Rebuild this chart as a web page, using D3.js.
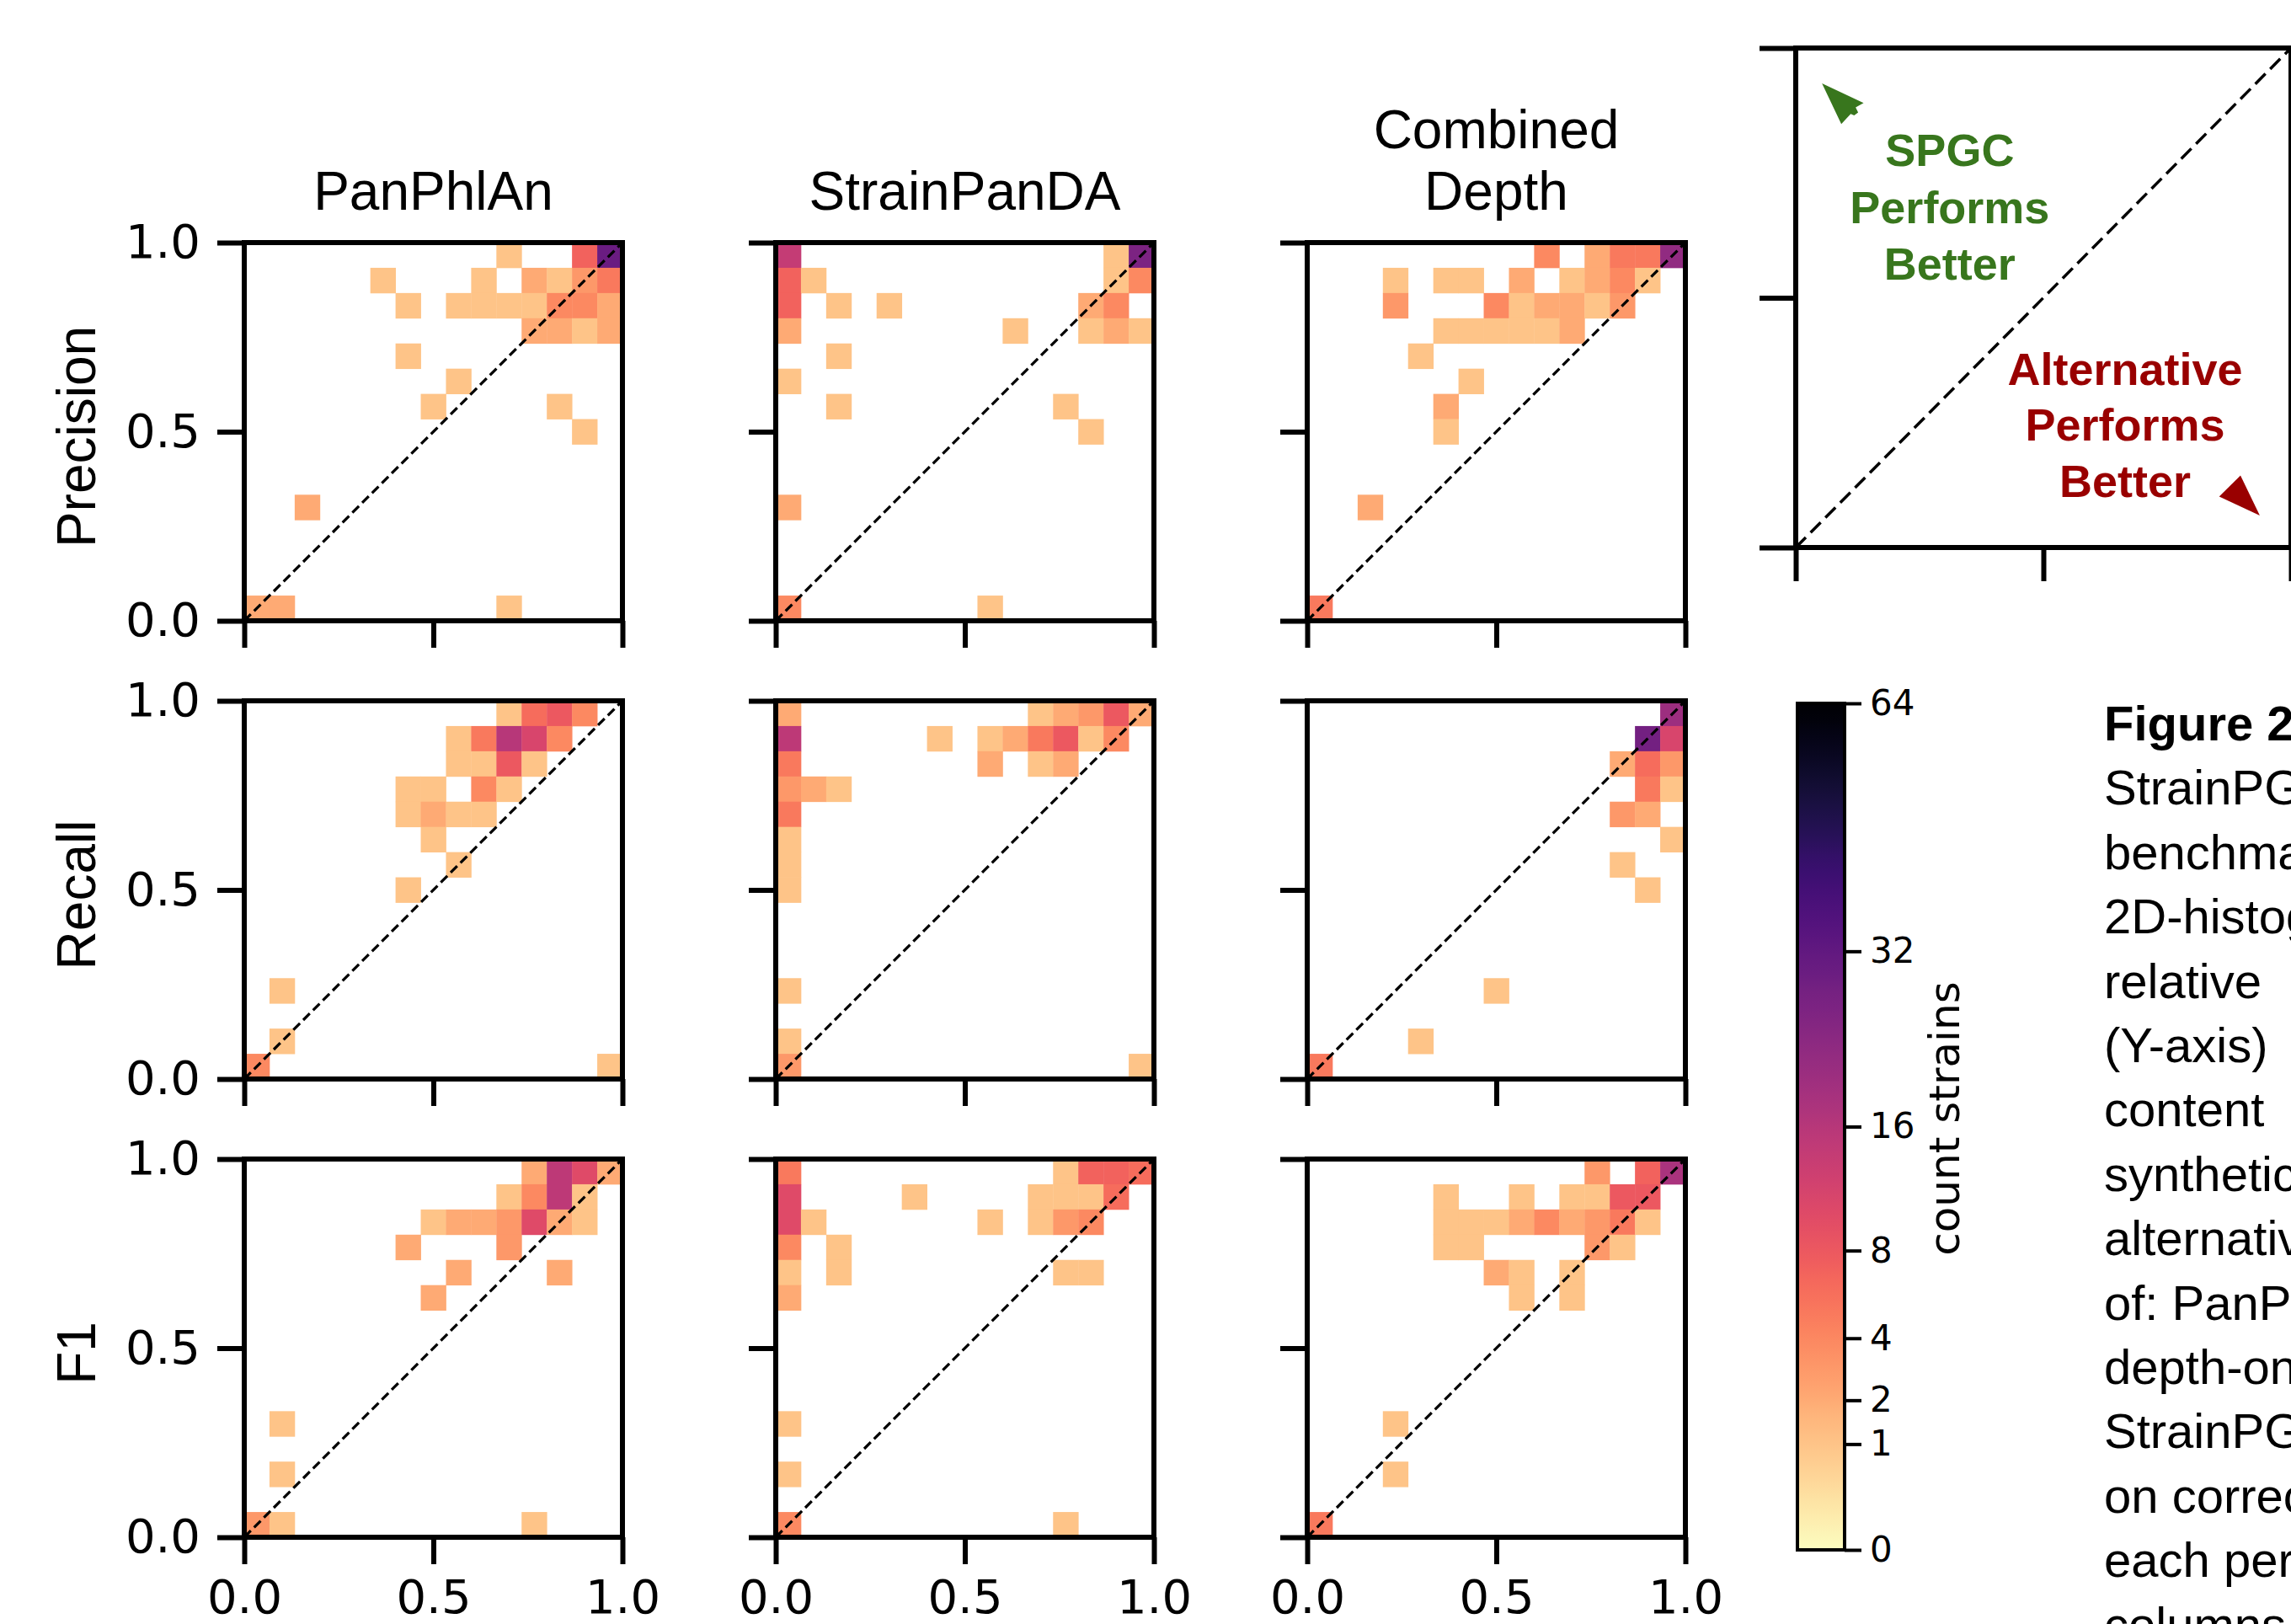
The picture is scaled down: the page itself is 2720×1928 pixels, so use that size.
<!DOCTYPE html>
<html>
<head>
<meta charset="utf-8">
<script src="https://cdn.jsdelivr.net/npm/d3@7"></script>
<style>
  body { margin: 0; background: #fff; }
  svg { display: block; }
</style>
</head>
<body>
<svg id="chart"></svg>
<script>
const width = 2720
const height = 1928

const methods = [["PanPhlAn"], ["StrainPanDA"], ["Combined", "Depth"]]
const metrics = ["Precision", "Recall", "F1"]
const nBins = 15
const axisTicks = [0, 0.5, 1]
const colorTicks = [0, 1, 2, 4, 8, 16, 32, 64]
const maxCount = 64

// [x bin, y bin, count strains], bins of width 1/15 counted from 0
const precisionPanPhlAn = [
  [10, 14, 1], [13, 14, 7], [14, 14, 30],
  [5, 13, 1], [9, 13, 1], [11, 13, 2], [12, 13, 1], [13, 13, 3], [14, 13, 5],
  [6, 12, 1], [8, 12, 1], [9, 12, 1], [10, 12, 1], [11, 12, 1], [12, 12, 4], [13, 12, 4], [14, 12, 2],
  [11, 11, 2], [12, 11, 2], [13, 11, 1], [14, 11, 2],
  [6, 10, 1], [8, 9, 1], [7, 8, 1], [12, 8, 1], [13, 7, 1],
  [2, 4, 2],
  [0, 0, 2], [1, 0, 2], [10, 0, 1],
]
const precisionStrainPanDA = [
  [0, 14, 14], [13, 14, 1], [14, 14, 26],
  [0, 13, 7], [1, 13, 1], [13, 13, 1], [14, 13, 4],
  [0, 12, 7], [2, 12, 1], [4, 12, 1], [12, 12, 2], [13, 12, 4],
  [0, 11, 2], [9, 11, 1], [12, 11, 1], [13, 11, 2], [14, 11, 1],
  [2, 10, 1], [0, 9, 1], [2, 8, 1], [11, 8, 1], [12, 7, 1],
  [0, 4, 2],
  [0, 0, 4], [8, 0, 1],
]
const precisionCombined = [
  [9, 14, 4], [11, 14, 2], [12, 14, 5], [13, 14, 5], [14, 14, 22],
  [3, 13, 1], [5, 13, 1], [6, 13, 1], [8, 13, 2], [10, 13, 1], [11, 13, 2], [12, 13, 4], [13, 13, 1],
  [3, 12, 3], [7, 12, 4], [8, 12, 1], [9, 12, 2], [10, 12, 2], [11, 12, 1], [12, 12, 3],
  [5, 11, 1], [6, 11, 1], [7, 11, 1], [8, 11, 1], [9, 11, 1], [10, 11, 2],
  [4, 10, 1], [6, 9, 1], [5, 8, 2], [5, 7, 1],
  [2, 4, 2],
  [0, 0, 5],
]
const recallPanPhlAn = [
  [10, 14, 1], [11, 14, 6], [12, 14, 8], [13, 14, 4],
  [8, 13, 1], [9, 13, 5], [10, 13, 16], [11, 13, 11], [12, 13, 4],
  [8, 12, 1], [9, 12, 1], [10, 12, 8], [11, 12, 1],
  [6, 11, 1], [7, 11, 1], [9, 11, 4], [10, 11, 1],
  [6, 10, 1], [7, 10, 2], [8, 10, 1], [9, 10, 1],
  [7, 9, 1], [8, 8, 1], [6, 7, 1],
  [1, 3, 1], [1, 1, 1],
  [0, 0, 4], [14, 0, 1],
]
const recallStrainPanDA = [
  [0, 14, 2], [10, 14, 1], [11, 14, 2], [12, 14, 3], [13, 14, 8], [14, 14, 2],
  [0, 13, 15], [6, 13, 1], [8, 13, 1], [9, 13, 2], [10, 13, 5], [11, 13, 8], [12, 13, 1], [13, 13, 4],
  [0, 12, 5], [8, 12, 2], [10, 12, 1], [11, 12, 2],
  [0, 11, 3], [1, 11, 2], [2, 11, 1],
  [0, 10, 5], [0, 9, 1], [0, 8, 1], [0, 7, 1],
  [0, 3, 1], [0, 1, 1],
  [0, 0, 3], [14, 0, 1],
]
const recallCombined = [
  [14, 14, 20],
  [13, 13, 28], [14, 13, 11],
  [12, 12, 2], [13, 12, 6], [14, 12, 3],
  [13, 11, 5], [14, 11, 1],
  [12, 10, 3], [13, 10, 2],
  [14, 9, 1], [12, 8, 1], [13, 7, 1],
  [7, 3, 1], [4, 1, 1],
  [0, 0, 5],
]
const f1PanPhlAn = [
  [11, 14, 2], [12, 14, 15], [13, 14, 10], [14, 14, 2],
  [10, 13, 1], [11, 13, 4], [12, 13, 15], [13, 13, 1],
  [7, 12, 1], [8, 12, 2], [9, 12, 2], [10, 12, 3], [11, 12, 10], [12, 12, 2], [13, 12, 1],
  [6, 11, 2], [10, 11, 3],
  [8, 10, 2], [12, 10, 2],
  [7, 9, 2],
  [1, 4, 1], [1, 2, 1],
  [0, 0, 3], [1, 0, 1], [11, 0, 1],
]
const f1StrainPanDA = [
  [0, 14, 5], [11, 14, 1], [12, 14, 7], [13, 14, 7], [14, 14, 6],
  [0, 13, 10], [5, 13, 1], [10, 13, 1], [11, 13, 1], [12, 13, 1], [13, 13, 6],
  [0, 12, 10], [1, 12, 1], [8, 12, 1], [10, 12, 1], [11, 12, 3], [12, 12, 4],
  [0, 11, 4], [2, 11, 1],
  [0, 10, 1], [2, 10, 1], [11, 10, 1], [12, 10, 1],
  [0, 9, 2],
  [0, 4, 1], [0, 2, 1],
  [0, 0, 4], [11, 0, 1],
]
const f1Combined = [
  [11, 14, 3], [13, 14, 7], [14, 14, 18],
  [5, 13, 1], [8, 13, 1], [10, 13, 1], [11, 13, 1], [12, 13, 8], [13, 13, 8],
  [5, 12, 1], [6, 12, 1], [7, 12, 1], [8, 12, 2], [9, 12, 4], [10, 12, 2], [11, 12, 3], [12, 12, 5], [13, 12, 1],
  [5, 11, 1], [6, 11, 1], [11, 11, 3], [12, 11, 1],
  [7, 10, 2], [8, 10, 1], [10, 10, 1],
  [8, 9, 1], [10, 9, 1],
  [3, 4, 1], [3, 2, 1],
  [0, 0, 5],
]

const grid = [
  [precisionPanPhlAn, precisionStrainPanDA, precisionCombined],
  [recallPanPhlAn, recallStrainPanDA, recallCombined],
  [f1PanPhlAn, f1StrainPanDA, f1Combined],
]

// schematic inset, in its own 0..1 axes
const spgcLabel = ["SPGC", "Performs", "Better"]
const altLabel = ["Alternative", "Performs", "Better"]
const spgcArrow = [[0.053, 0.929], [0.137, 0.890], [0.121, 0.881], [0.126, 0.871], [0.118, 0.865], [0.111, 0.868], [0.092, 0.848]]
const altArrow = [[0.937, 0.064], [0.855, 0.102], [0.898, 0.144]]

const captionLines = [
  "Figure 2", "StrainPGC", "benchmark", "2D-histograms", "relative", "(Y-axis)",
  "content", "synthetic", "alternative", "of: PanPhlAn", "depth-only",
  "StrainPGC", "on correct", "each perform", "columns",
]

// layout
const panelLeft = [290, 921, 1552]
const panelTop = [288, 832, 1376]
const panelSize = 449
const tickFont = "'DejaVu Sans', sans-serif"
const labelFont = "'Liberation Sans', Arial, sans-serif"

const svg = d3.select("#chart").attr("width", width).attr("height", height)
  .attr("viewBox", `0 0 ${width} ${height}`)

const norm = d3.scalePow().exponent(0.5).domain([0, maxCount]).range([0, 1])
const color = (v) => d3.interpolateMagma(1 - norm(v))

grid.forEach((row, r) => {
  row.forEach((cells, c) => {
    const x = d3.scaleLinear().domain([0, 1]).range([panelLeft[c], panelLeft[c] + panelSize])
    const y = d3.scaleLinear().domain([0, 1]).range([panelTop[r] + panelSize, panelTop[r]])
    const g = svg.append("g")

    g.selectAll("rect.cell")
      .data(cells)
      .join("rect")
      .attr("class", "cell")
      .attr("x", (d) => x(d[0] / nBins))
      .attr("y", (d) => y((d[1] + 1) / nBins))
      .attr("width", (d) => x((d[0] + 1) / nBins) - x(d[0] / nBins) + 0.4)
      .attr("height", (d) => y(d[1] / nBins) - y((d[1] + 1) / nBins) + 0.4)
      .attr("fill", (d) => color(d[2]))

    g.append("line")
      .attr("x1", x(0)).attr("y1", y(0))
      .attr("x2", x(1)).attr("y2", y(1))
      .attr("stroke", "#000")
      .attr("stroke-width", 3.2)
      .attr("stroke-dasharray", "11,5.5")

    const xa = g.append("g")
      .attr("transform", `translate(0, ${y(0)})`)
      .call(d3.axisBottom(x).tickValues(axisTicks).tickSize(32).tickSizeOuter(0).tickPadding(18)
        .tickFormat(r === 2 ? d3.format(".1f") : () => ""))
    const ya = g.append("g")
      .attr("transform", `translate(${x(0)}, 0)`)
      .call(d3.axisLeft(y).tickValues(axisTicks).tickSize(32).tickSizeOuter(0).tickPadding(20)
        .tickFormat(c === 0 ? d3.format(".1f") : () => ""))
    ;[xa, ya].forEach((a) => {
      a.select(".domain").remove()
      a.selectAll(".tick line").attr("stroke", "#000").attr("stroke-width", 6)
      a.selectAll("text").attr("font-family", tickFont).attr("font-size", 56).attr("fill", "#000")
    })

    g.append("rect")
      .attr("x", x(0)).attr("y", y(1))
      .attr("width", x(1) - x(0)).attr("height", y(0) - y(1))
      .attr("fill", "none")
      .attr("stroke", "#000")
      .attr("stroke-width", 6)
  })
})

// column titles
methods.forEach((lines, c) => {
  const cx = panelLeft[c] + panelSize / 2
  svg.append("text")
    .attr("x", cx)
    .attr("text-anchor", "middle")
    .attr("font-family", labelFont)
    .attr("font-size", 64)
    .selectAll("tspan")
    .data(lines)
    .join("tspan")
    .attr("x", cx)
    .attr("y", (d, i) => 249 - (lines.length - 1 - i) * 73)
    .text((d) => d)
})

// row labels
metrics.forEach((m, r) => {
  svg.append("text")
    .attr("transform", `translate(113, ${panelTop[r] + panelSize / 2 + 6}) rotate(-90)`)
    .attr("text-anchor", "middle")
    .attr("font-family", labelFont)
    .attr("font-size", 64)
    .text(m)
})

// colorbar
const cbLeft = 2134
const cbWidth = 56
const cbY = d3.scalePow().exponent(0.5).domain([0, maxCount]).range([1840, 835])
const grad = svg.append("defs").append("linearGradient")
  .attr("id", "cbar").attr("x1", 0).attr("y1", 1).attr("x2", 0).attr("y2", 0)
grad.selectAll("stop")
  .data(d3.range(0, 1.0001, 0.02))
  .join("stop")
  .attr("offset", (d) => d)
  .attr("stop-color", (d) => d3.interpolateMagma(1 - d))
svg.append("rect")
  .attr("x", cbLeft).attr("y", cbY(maxCount))
  .attr("width", cbWidth).attr("height", cbY(0) - cbY(maxCount))
  .attr("fill", "url(#cbar)")
  .attr("stroke", "#000").attr("stroke-width", 4)
const cba = svg.append("g")
  .attr("transform", `translate(${cbLeft + cbWidth}, 0)`)
  .call(d3.axisRight(cbY).tickValues(colorTicks).tickSize(20).tickSizeOuter(0).tickPadding(10))
cba.select(".domain").remove()
cba.selectAll(".tick line").attr("stroke", "#000").attr("stroke-width", 4)
cba.selectAll("text").attr("font-family", tickFont).attr("font-size", 42).attr("fill", "#000")
svg.append("text")
  .attr("transform", `translate(2326, 1328) rotate(-90)`)
  .attr("text-anchor", "middle")
  .attr("font-family", tickFont)
  .attr("font-size", 50)
  .text("count strains")

// inset explaining the diagonal
const ix = d3.scaleLinear().domain([0, 1]).range([2132, 2720])
const iy = d3.scaleLinear().domain([0, 1]).range([650, 57])
const inset = svg.append("g")
inset.append("line")
  .attr("x1", ix(0)).attr("y1", iy(0)).attr("x2", ix(1)).attr("y2", iy(1))
  .attr("stroke", "#000").attr("stroke-width", 3.5).attr("stroke-dasharray", "17,8")
const ixa = inset.append("g").attr("transform", `translate(0, ${iy(0)})`)
  .call(d3.axisBottom(ix).tickValues(axisTicks).tickSize(40).tickSizeOuter(0).tickFormat(() => ""))
const iya = inset.append("g").attr("transform", `translate(${ix(0)}, 0)`)
  .call(d3.axisLeft(iy).tickValues(axisTicks).tickSize(43).tickSizeOuter(0).tickFormat(() => ""))
;[ixa, iya].forEach((a) => {
  a.select(".domain").remove()
  a.selectAll(".tick line").attr("stroke", "#000").attr("stroke-width", 6)
})
inset.append("rect")
  .attr("x", ix(0)).attr("y", iy(1))
  .attr("width", ix(1) - ix(0)).attr("height", iy(0) - iy(1))
  .attr("fill", "none").attr("stroke", "#000").attr("stroke-width", 6)

const arrowLine = d3.line().x((d) => ix(d[0])).y((d) => iy(d[1]))
inset.append("path").attr("d", arrowLine(spgcArrow) + "Z").attr("fill", "#38761d")
inset.append("path").attr("d", arrowLine(altArrow) + "Z").attr("fill", "#990000")

const spgcY = [0.764, 0.650, 0.536]
const altY = [0.325, 0.215, 0.101]
inset.append("g").selectAll("text")
  .data(spgcLabel)
  .join("text")
  .attr("x", ix(0.311))
  .attr("y", (d, i) => iy(spgcY[i]))
  .attr("text-anchor", "middle")
  .attr("font-family", labelFont)
  .attr("font-weight", "bold")
  .attr("font-size", 54)
  .attr("fill", "#38761d")
  .text((d) => d)
inset.append("g").selectAll("text")
  .data(altLabel)
  .join("text")
  .attr("x", ix(0.665))
  .attr("y", (d, i) => iy(altY[i]))
  .attr("text-anchor", "middle")
  .attr("font-family", labelFont)
  .attr("font-weight", "bold")
  .attr("font-size", 54)
  .attr("fill", "#990000")
  .text((d) => d)

// caption text, cut by the page edge as in the source figure
svg.append("g").selectAll("text")
  .data(captionLines)
  .join("text")
  .attr("x", 2498)
  .attr("y", (d, i) => 879 + i * 76.4)
  .attr("font-family", labelFont)
  .attr("font-size", 58)
  .attr("font-weight", (d, i) => (i === 0 ? "bold" : "normal"))
  .text((d) => d)
</script>
</body>
</html>
